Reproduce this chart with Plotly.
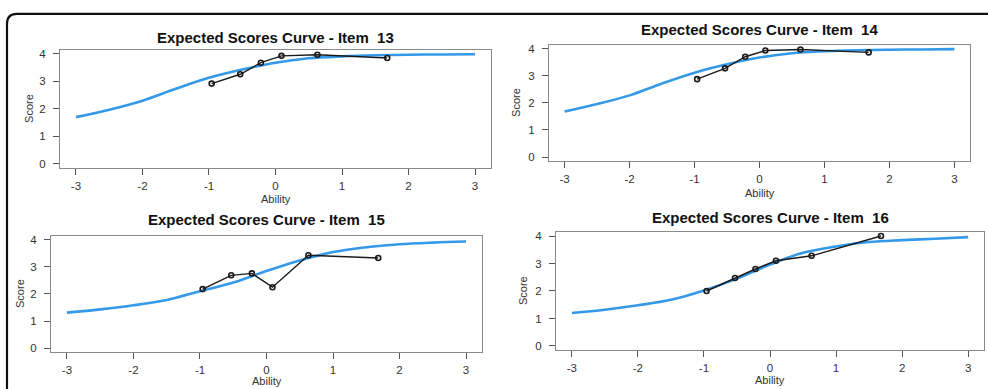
import plotly.graph_objects as go

W, H = 988, 389

# ---- data ----
ability_grid = [-3, -2.5, -2, -1.5, -1, -0.5, 0, 0.5, 1, 1.5, 2, 2.5, 3]
obs_ability = [-0.96, -0.53, -0.22, 0.09, 0.63, 1.68]

item_titles = ["Expected Scores Curve - Item  13", "Expected Scores Curve - Item  14",
               "Expected Scores Curve - Item  15", "Expected Scores Curve - Item  16"]

exp13 = [1.70, 1.97, 2.30, 2.73, 3.13, 3.43, 3.68, 3.84, 3.91, 3.95, 3.97, 3.98, 3.99]
exp14 = [1.68, 1.96, 2.28, 2.72, 3.12, 3.43, 3.68, 3.84, 3.91, 3.95, 3.97, 3.98, 3.99]
exp15 = [1.31, 1.43, 1.58, 1.78, 2.10, 2.42, 2.85, 3.24, 3.55, 3.73, 3.84, 3.90, 3.94]
exp16 = [1.20, 1.32, 1.48, 1.68, 2.02, 2.45, 2.96, 3.39, 3.62, 3.78, 3.85, 3.90, 3.96]

obs13 = [2.92, 3.26, 3.68, 3.93, 3.97, 3.85]
obs14 = [2.88, 3.28, 3.71, 3.94, 3.98, 3.87]
obs15 = [2.18, 2.69, 2.76, 2.25, 3.43, 3.33]
obs16 = [2.00, 2.47, 2.80, 3.10, 3.28, 4.00]

x_ticks = [-3, -2, -1, 0, 1, 2, 3]
y_ticks = [0, 1, 2, 3, 4]

expected = [exp13, exp14, exp15, exp16]
observed = [obs13, obs14, obs15, obs16]

# ---- layout (pixel boxes: left, right, top, bottom) ----
boxes = [(60, 491, 48, 168), (549, 970, 43, 161), (51, 482, 236, 354), (556, 984, 232, 352)]
title_y = [36, 28, 220, 218]
score_x = [29, 516, 20, 523]
ability_y = [199, 193, 383, 382]

FONT = "Liberation Sans, Arial, sans-serif"
fig = go.Figure()
annotations = []
layout_axes = {}

for i in range(4):
    n = "" if i == 0 else str(i + 1)
    xa, ya = "x" + n, "y" + n
    l, r, t, b = boxes[i]
    fig.add_trace(go.Scatter(x=ability_grid, y=expected[i], mode="lines", line=dict(color="#3399e8", width=2.6, shape="spline", smoothing=1.0),
                             xaxis=xa, yaxis=ya, showlegend=False, hoverinfo="skip"))
    fig.add_trace(go.Scatter(x=obs_ability, y=observed[i], mode="lines+markers", line=dict(color="#1a1a1a", width=1.4),
                             marker=dict(symbol="circle-open", size=5, color="#1a1a1a", line=dict(width=1.6)),
                             xaxis=xa, yaxis=ya, showlegend=False))
    common = dict(showgrid=False, zeroline=False, showline=True, mirror=True, linecolor="#8a8a8a", linewidth=1.2,
                  ticks="outside", ticklen=6, tickcolor="#555", tickwidth=1,
                  tickfont=dict(family=FONT, size=11.5, color="#333"))
    layout_axes["xaxis" + n] = dict(common, domain=[l / W, r / W], range=[-3.24, 3.24], tickvals=x_ticks,
                                    ticktext=[str(v) for v in x_ticks], anchor=ya, ticklabelstandoff=1)
    layout_axes["yaxis" + n] = dict(common, domain=[1 - b / H, 1 - t / H], range=[-0.16, 4.16], tickvals=y_ticks,
                                    anchor=xa, ticklabelstandoff=5)
    cx = (l + r) / 2 / W
    annotations.append(dict(text="<b>" + item_titles[i] + "</b>", x=cx, y=1 - title_y[i] / H, xref="paper", yref="paper",
                            showarrow=False, font=dict(family=FONT, size=15, color="#111"), xanchor="center", yanchor="middle"))
    annotations.append(dict(text="Score", x=score_x[i] / W, y=1 - (t + b) / 2 / H, xref="paper", yref="paper", textangle=-90,
                            showarrow=False, font=dict(family=FONT, size=11, color="#333"), xanchor="center", yanchor="middle"))
    annotations.append(dict(text="Ability", x=cx, y=1 - ability_y[i] / H, xref="paper", yref="paper",
                            showarrow=False, font=dict(family=FONT, size=11, color="#333"), xanchor="center", yanchor="middle"))

# rounded frame (top and left edges)
def px(x, y):
    return f"{x / W:.5f},{1 - y / H:.5f}"

frame_path = f"M {px(7, 392)} L {px(7, 22)} Q {px(7, 12)} {px(17, 12)} L {px(990, 12)}"

fig.update_layout(
    width=W, height=H, margin=dict(l=0, r=0, t=0, b=0),
    paper_bgcolor="white", plot_bgcolor="white",
    annotations=annotations,
    shapes=[dict(type="path", path=frame_path, xref="paper", yref="paper", line=dict(color="#111", width=2.2))],
    **layout_axes,
)

fig.write_html("out.html", config={"displayModeBar": False},
               post_script="document.body.style.margin='0';document.body.style.overflow='hidden';")
